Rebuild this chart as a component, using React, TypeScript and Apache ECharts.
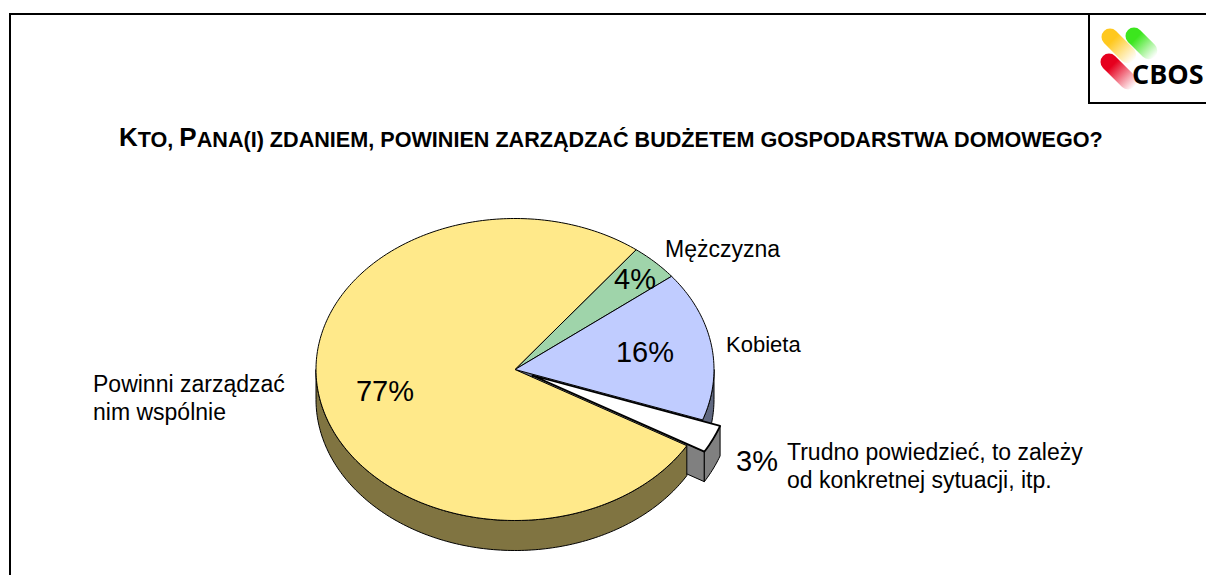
import React, { useEffect, useRef } from "react";
import * as echarts from "echarts";

const categories = ["Mężczyzna", "Kobieta", "Trudno powiedzieć, to zależy\nod konkretnej sytuacji, itp.", "Powinni zarządzać\nnim wspólnie"];
const values = [4, 16, 3, 77];
const exploded = [false, false, true, false];
const topColors = ["#9FD4AA", "#C0CCFF", "#FFFFFF", "#FFE98A"];
const wallColors = ["#50695A", "#606880", "#808080", "#807441"];

const CX = 515, CY = 369.5, RX = 199, RY = 151, DEPTH = 30, START = 52.5;
const EX = 17.5, EY = 6;
const valuePos = [[635, 279], [645, 352], [757, 461], [385, 391]];
const namePos = [[665, 249], [726, 344], [787, 452], [93, 384]];
const nameSize = [23, 22, 23, 23];

const sum = values.reduce((a, b) => a + b, 0);
const angleBounds = (i: number) => {
  let a = START;
  for (let k = 0; k < i; k++) a -= (values[k] / sum) * 360;
  return [a, a - (values[i] / sum) * 360];
};
const pt = (deg: number, ox = 0, oy = 0, dz = 0) => [
  CX + ox + RX * Math.cos((deg * Math.PI) / 180),
  CY + oy + dz - RY * Math.sin((deg * Math.PI) / 180),
];
const arc = (from: number, to: number, ox = 0, oy = 0, dz = 0) => {
  const n = Math.max(2, Math.ceil(Math.abs(from - to)));
  const out: number[][] = [];
  for (let j = 0; j <= n; j++) out.push(pt(from + ((to - from) * j) / n, ox, oy, dz));
  return out;
};
const poly = (points: number[][], fill: string, lineWidth = 1) => ({
  type: "polygon",
  shape: { points },
  style: { fill, stroke: "#000", lineWidth, lineJoin: "round" },
});

const renderSlice = (params: any, api: any) => {
  const i = params.dataIndex;
  const [a0, a1] = angleBounds(i);
  const ox = exploded[i] ? EX : 0;
  const oy = exploded[i] ? EY : 0;
  const children: any[] = [];
  const wall = wallColors[i];
  const apex = [CX + ox, CY + oy];
  if (exploded[i]) {
    const c = pt(a1, ox, oy);
    children.push(poly([apex, c, [c[0], c[1] + DEPTH], [apex[0], apex[1] + DEPTH]], wall));
    children.push(poly([...arc(a0, a1, ox, oy), ...arc(a1, a0, ox, oy, DEPTH)], wall));
  } else {
    // visible part of the rim: the front half of the ellipse (sin < 0)
    const from = Math.min(a0, 0);
    const to = Math.max(a1, -180);
    if (from > to) {
      // the slice next to the pulled-out one also shows its cut face
      if (exploded[i + 1]) {
        const c = pt(a1);
        children.push({
          type: "polygon",
          shape: { points: [apex, c, [c[0], c[1] + DEPTH], [apex[0], apex[1] + DEPTH]] },
          style: { fill: wall },
        });
      }
      children.push(poly([...arc(from, to), ...arc(to, from, 0, 0, DEPTH)], wall));
    }
  }
  children.push(poly([apex, ...arc(a0, a1, ox, oy)], topColors[i], exploded[i] ? 1.8 : 1));
  return { type: "group", children };
};

const renderText = (params: any, api: any) => {
  const i = params.dataIndex;
  const lines = categories[i].split("\n");
  const font = "Liberation Sans, Arial, sans-serif";
  return {
    type: "group",
    children: [
      {
        type: "text",
        x: valuePos[i][0],
        y: valuePos[i][1],
        style: { text: `${api.value(0)}%`, fontSize: 29, fontFamily: font, fill: "#000", align: "center", verticalAlign: "middle" },
      },
      ...lines.map((t, k) => ({
        type: "text",
        x: namePos[i][0],
        y: namePos[i][1] + k * 28,
        style: { text: t, fontSize: nameSize[i], fontFamily: font, fill: "#000", align: "left", verticalAlign: "middle" },
      })),
    ],
  };
};

const capsule = (x: number, y: number, len: number, color: string) => ({
  type: "group",
  x,
  y,
  rotation: -Math.PI / 4,
  children: [
    {
      type: "rect",
      shape: { x: -8.5, y: -8.5, width: len, height: 17, r: 8.5 },
      style: {
        fill: new echarts.graphic.LinearGradient(0, 0, 1, 0, [
          { offset: 0, color },
          { offset: 0.3, color },
          { offset: 1, color: "#FFFFFF" },
        ]),
      },
    },
  ],
});

export default function App() {
  const ref = useRef<HTMLDivElement>(null);
  useEffect(() => {
    const chart = echarts.init(ref.current!, null, { renderer: "svg" });
    chart.setOption({
      animation: false,
      backgroundColor: "#fff",
      title: {
        left: 119,
        top: 124,
        padding: 0,
        text: "{b|K}{s|TO, }{b|P}{s|ANA(I) ZDANIEM, POWINIEN ZARZĄDZAĆ BUDŻETEM GOSPODARSTWA DOMOWEGO?}",
        textStyle: {
          rich: {
            b: { fontSize: 26, fontWeight: "bold", fontFamily: "Liberation Sans", color: "#000", verticalAlign: "bottom" },
            s: { fontSize: 21.6, fontWeight: "bold", fontFamily: "Liberation Sans", color: "#000", verticalAlign: "bottom" },
          },
        },
      },
      graphic: [
        { type: "line", shape: { x1: 10, y1: 14, x2: 1206, y2: 14 }, style: { stroke: "#000", lineWidth: 2 } },
        { type: "line", shape: { x1: 10, y1: 13, x2: 10, y2: 575 }, style: { stroke: "#000", lineWidth: 2 } },
        { type: "line", shape: { x1: 1089, y1: 14, x2: 1089, y2: 103 }, style: { stroke: "#000", lineWidth: 2 } },
        { type: "line", shape: { x1: 1088, y1: 103, x2: 1206, y2: 103 }, style: { stroke: "#000", lineWidth: 2 } },
        capsule(1110, 37, 42, "#FFC81E"),
        capsule(1134, 36, 38, "#3CE61E"),
        capsule(1109, 62, 44, "#E6001E"),
        {
          type: "text",
          x: 1132,
          y: 73,
          style: { text: "CBOS", fontSize: 27, fontWeight: "bold", fontFamily: "Open Sans", fill: "#000", align: "left", verticalAlign: "middle" },
        },
      ],
      series: [
        {
          type: "custom",
          coordinateSystem: "none",
          silent: true,
          z: 2,
          renderItem: renderSlice,
          data: values.map((v) => [v]),
        },
        {
          type: "custom",
          coordinateSystem: "none",
          silent: true,
          z: 3,
          renderItem: renderText,
          data: values.map((v) => [v]),
        },
      ],
    });
    return () => chart.dispose();
  }, []);
  return <div ref={ref} style={{ position: "absolute", left: 0, top: 0, width: 1206, height: 575 }} />;
}
